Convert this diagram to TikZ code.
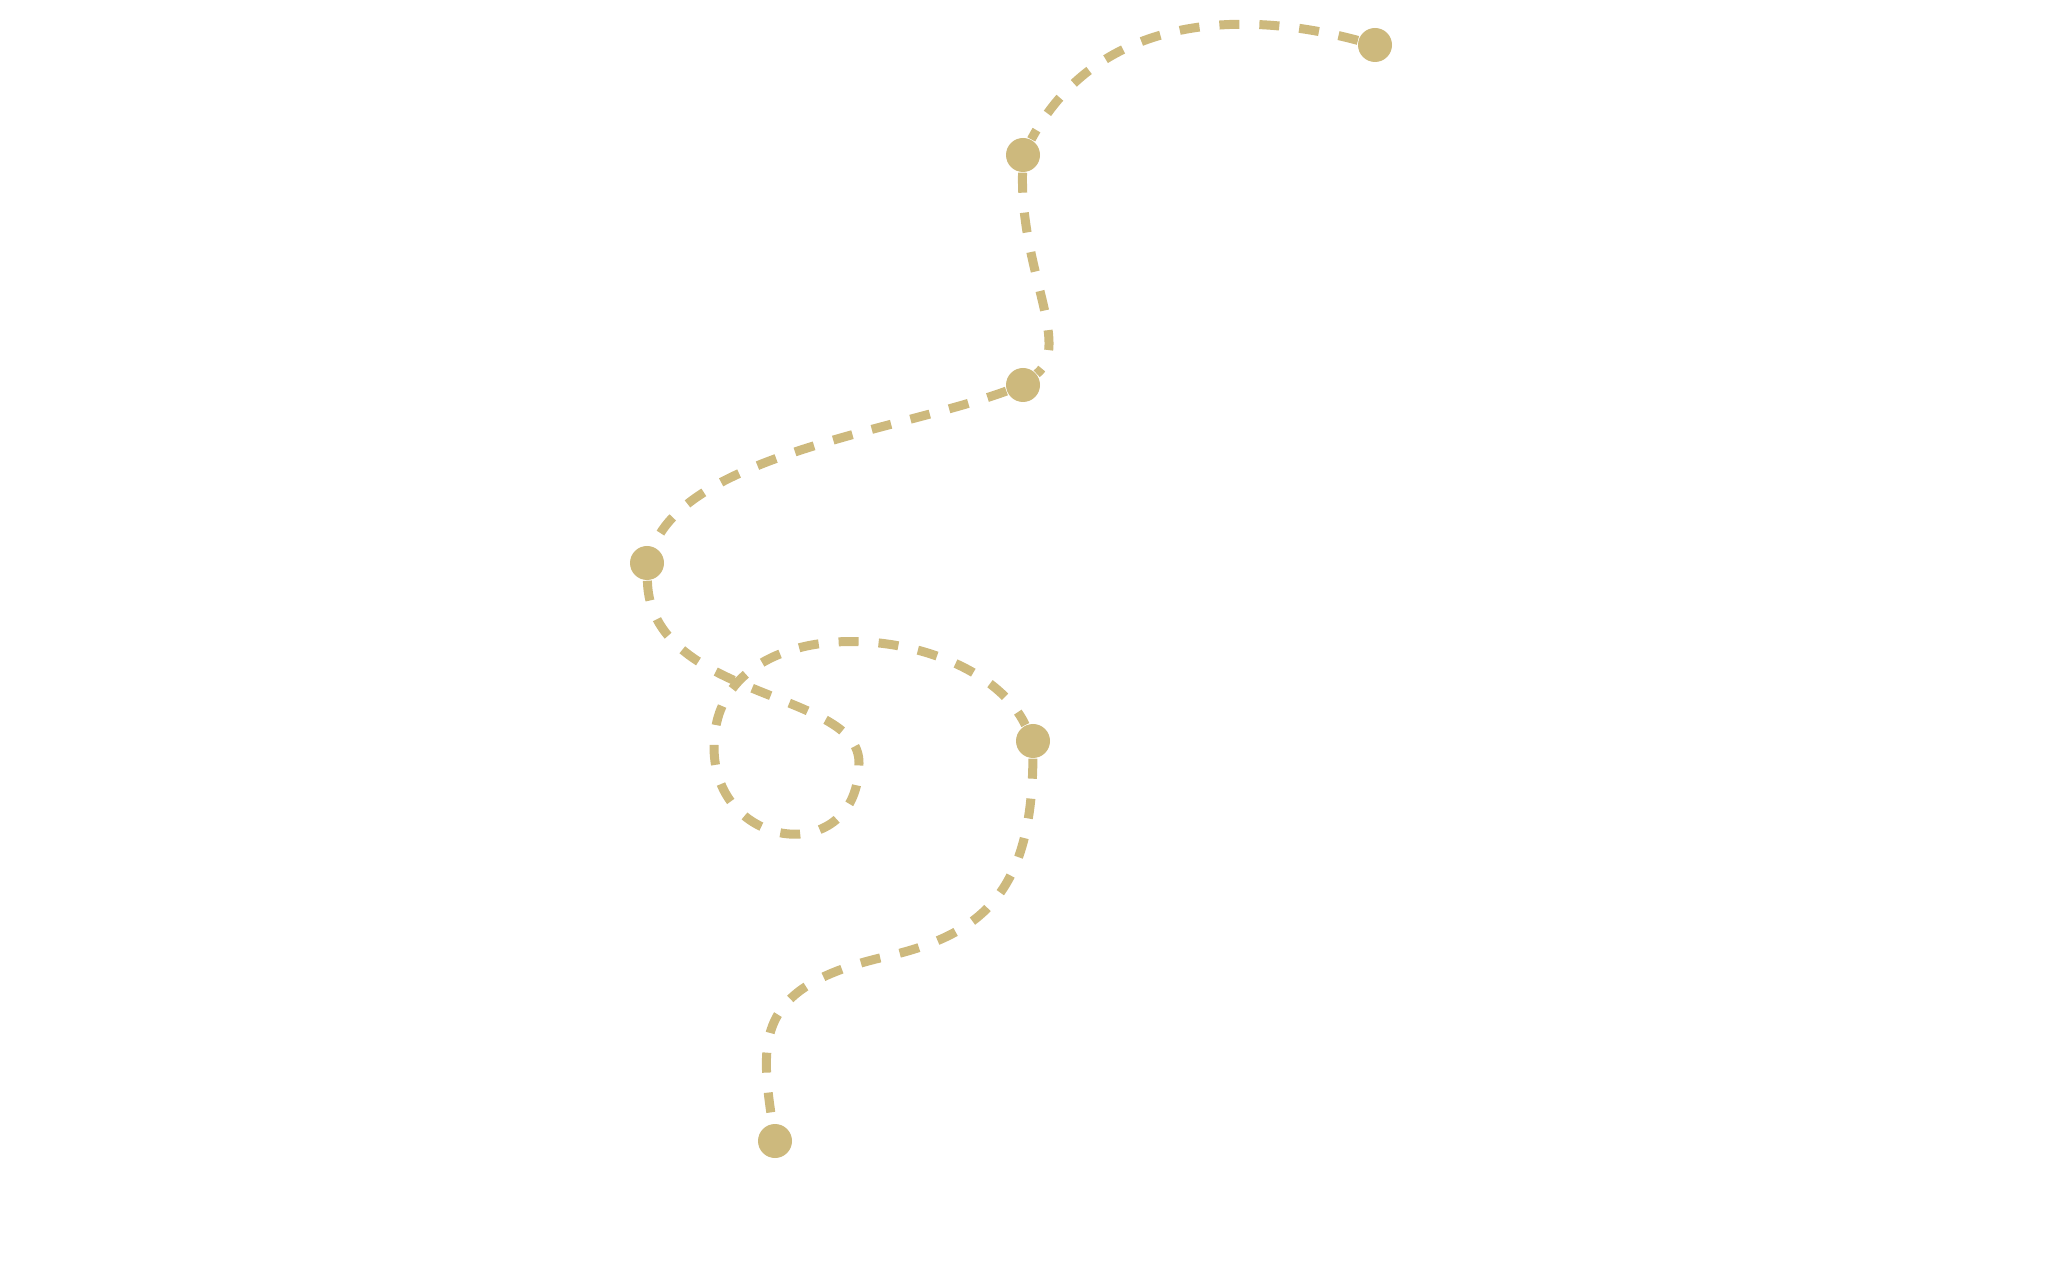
\documentclass[tikz,border=0pt]{standalone}
\usepackage{tikz}
\definecolor{sand}{RGB}{205,185,125}

\begin{document}
\begin{tikzpicture}
[dotnode/.style={circle, fill=sand, inner sep=0pt, minimum size=3.4mm},
trailline/.style={draw=sand, line width=0.9mm, dash pattern=on 2mm off 2mm},
]
\useasboundingbox (0,0) rectangle (20.64,12.64);

\node[dotnode] (d1) at (13.75,12.19) {};
\node[dotnode] (d2) at (10.23,11.09) {};
\node[dotnode] (d3) at (10.23,8.79) {};
\node[dotnode] (d4) at (6.47,7.01) {};
\node[dotnode] (d5) at (10.33,5.23) {};
\node[dotnode] (d6) at (7.75,1.23) {};

\coordinate (loopR) at (8.59,5.01);
\coordinate (loopL) at (7.14,5.17);
\coordinate (bend) at (8.80,3.06);

\draw[trailline] (d1) to[out=165, in=62] (d2);
\draw[trailline] (d2) .. controls +(-0.03,-1.15) and +(0.49,0.40) .. (d3);
\draw[trailline] (d3) .. controls +(-1.23,-0.45) and +(0.43,1.08) .. (d4);
\draw[trailline] (d4) .. controls +(0.03,-1.37) and +(0.01,0.73) .. (loopR)
  .. controls +(0,-1.05) and +(0,-1.05) .. (loopL)
  .. controls +(0,1.47) and +(-0.58,1.21) .. (d5);
\draw[trailline] (d5) .. controls +(-0.01,-1.59) and +(0.95,0.21) .. (bend)
  .. controls +(-1.25,-0.30) and +(-0.15,1.01) .. (d6);
\end{tikzpicture}
\end{document}
